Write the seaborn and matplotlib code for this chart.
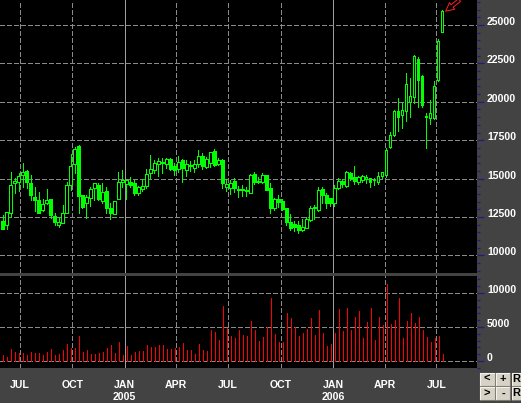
import numpy as np
import pandas as pd
import matplotlib
matplotlib.use("Agg")
import matplotlib.pyplot as plt
import matplotlib.dates as mdates
import matplotlib.transforms as mtrans
from matplotlib.patches import Rectangle
from matplotlib.lines import Line2D
from matplotlib.ticker import MultipleLocator, FixedLocator
import seaborn as sns

# ---------------- data ----------------
start_date = "2004-06-01"   # first weekly bar
opens = [12240, 11960, 12740, 14690, 14760, 15240, 15470, 14710, 13800, 13610,
         12960, 13390, 13650, 12570, 12000, 12130, 12740, 14580, 15930, 17120,
         13930, 13390, 13720, 14370, 14580, 13540, 14190, 13060, 12670, 13650,
         14800, 14630, 14800, 14740, 14090, 14300, 14540, 15340, 15560, 15950,
         16020, 15950, 16280, 15800, 15640, 16210, 15560, 15800, 15710, 15950,
         16470, 15780, 15990, 16800, 15930, 16210, 14480, 14410, 14840, 14280,
         14320, 14220, 14090, 15300, 14800, 14800, 15240, 14410, 13060, 13690,
         13560, 13110, 12200, 12020, 11980, 11650, 11810, 12310, 13100, 12960,
         14300, 13930, 13760, 13390, 14370, 14820, 14540, 15340, 15080, 14800,
         14910, 14950, 15020, 14900, 14800, 15190, 15240, 17080, 17840, 19400,
         19140, 19420, 19970, 20330, 22760, 21680, 19100, 18920, 18920, 21420,
         24570]
highs = [12630, 12830, 15430, 15020, 15390, 15990, 15560, 15240, 14480, 14130,
         13650, 14300, 13650, 12740, 12480, 13280, 14800, 16600, 17080, 17190,
         13930, 13930, 14480, 14690, 14690, 14690, 14430, 13390, 13560, 15430,
         15560, 14970, 15130, 14910, 14540, 14970, 15630, 16540, 16210, 16320,
         16320, 16320, 16320, 15990, 16490, 16250, 16210, 16170, 16210, 16860,
         16650, 16430, 16750, 16930, 16320, 16250, 14950, 14910, 15020, 14520,
         14580, 14430, 15300, 15450, 15130, 15390, 15240, 14690, 13760, 13930,
         13650, 13110, 12700, 12240, 12260, 12350, 12480, 13220, 13280, 14430,
         14430, 14090, 13760, 14580, 15020, 14960, 15500, 15410, 15820, 15190,
         15240, 15240, 15060, 15020, 15410, 15450, 16970, 18010, 19470, 20230,
         19900, 21850, 21570, 23050, 22890, 21750, 19250, 20120, 21380, 24090,
         25980]
lows = [11700, 11740, 12520, 14040, 14220, 14430, 14370, 13610, 12910, 12740,
        12910, 13350, 12410, 11980, 11870, 12090, 12740, 14260, 15340, 12780,
        13060, 12410, 13220, 13610, 13610, 13430, 12740, 12350, 12670, 13650,
        14480, 13670, 14480, 13930, 13930, 14220, 14370, 15060, 15340, 15190,
        15340, 15670, 15560, 15210, 15450, 14800, 15170, 15500, 15450, 15780,
        15630, 15710, 15780, 15840, 15890, 14370, 14220, 14000, 14150, 13820,
        13870, 13870, 14040, 14650, 14690, 14690, 14260, 12780, 12960, 13170,
        12960, 11980, 11650, 11610, 11440, 11610, 11760, 12260, 12350, 12910,
        13390, 13110, 13220, 13220, 14300, 14430, 14470, 14910, 14630, 14630,
        14800, 14740, 14430, 14580, 14650, 15020, 15130, 16970, 17770, 18120,
        18270, 18770, 19030, 19900, 19680, 19640, 17010, 18560, 18860, 21350,
        24570]
closes = [11740, 12830, 14580, 14870, 15190, 15410, 14760, 13930, 13630, 12780,
          13350, 13610, 12630, 12200, 12170, 12740, 14580, 15820, 16930, 13890,
          13170, 13800, 14320, 14690, 13670, 14110, 13060, 12740, 13560, 14760,
          14910, 14910, 14580, 14040, 14430, 14520, 15300, 15600, 16040, 16150,
          16060, 16280, 15620, 15560, 16070, 15670, 15950, 15890, 15950, 16470,
          15840, 16280, 16710, 15890, 16210, 14690, 14630, 14740, 14370, 14320,
          14280, 14250, 15210, 14760, 14790, 15240, 14260, 13110, 13670, 13480,
          13040, 12200, 11760, 11870, 11650, 11870, 12370, 13110, 13120, 14260,
          13930, 13390, 13430, 14370, 14840, 14620, 15440, 15020, 14870, 15080,
          15190, 15130, 14800, 14920, 15190, 15410, 16860, 17840, 19420, 18990,
          19470, 21140, 20380, 22980, 21420, 19790, 18990, 19250, 21030, 23960,
          25910]
volumes = [880, 590, 1760, 1320, 1180, 1180, 880, 1320, 1180, 1180,
           880, 1320, 1760, 880, 1030, 1620, 2500, 1910, 1910, 3680,
           1320, 1620, 1030, 1030, 1180, 1320, 1910, 2350, 1180, 2790,
           880, 2210, 880, 1370, 1470, 1470, 2350, 2060, 2060, 2350,
           2350, 1760, 1760, 1840, 2060, 2650, 1620, 1620, 1030, 2500,
           1620, 1500, 4560, 4260, 3090, 8090, 4920, 3680, 3380, 4560,
           3820, 3680, 5880, 4560, 2940, 3500, 4970, 9290, 3970, 2790,
           2790, 7060, 6320, 4950, 3680, 4120, 4700, 6320, 3820, 7500,
           4120, 2210, 2500, 4120, 7640, 4410, 7790, 4560, 6470, 7350,
           3380, 5730, 7790, 3090, 6470, 5290, 11320, 5440, 6030, 9260,
           3380, 5880, 7060, 5590, 6470, 4560, 3530, 2790, 3380, 3680,
           1030]
price_ticks = [10000, 12500, 15000, 17500, 20000, 22500, 25000]
volume_ticks = [0, 5000, 10000]
quarter_dates = ["2004-07-01", "2004-10-01", "2005-01-01", "2005-04-01",
                 "2005-07-01", "2005-10-01", "2006-01-01", "2006-04-01",
                 "2006-07-01"]
quarter_labels = ["JUL", "OCT", "JAN", "APR", "JUL", "OCT", "JAN", "APR", "JUL"]
year_labels = {"2005-01-01": "2005", "2006-01-01": "2006"}
button_labels = [["<", "+", "R"], [">", "-", "R"]]

# ---------------- style ----------------
sns.set_theme(style="dark", rc={"axes.facecolor": "black",
                                "figure.facecolor": "#434343"})
plt.rcParams["font.family"] = ["Liberation Sans", "DejaVu Sans"]
plt.rcParams["lines.scale_dashes"] = False

W, H = 521, 403
GREEN = "#00ff00"
GRID = "#8a8a8a"
BG = "#434343"
TICKBLUE = "#1c1c8a"
PX = 0.72  # one pixel in points


def rect(x0, y0, x1, y1):
    return [x0 / W, 1 - y1 / H, (x1 - x0) / W, (y1 - y0) / H]


fig = plt.figure(figsize=(W / 100, H / 100), dpi=100, facecolor=BG)
axp = fig.add_axes(rect(0, 0, 477, 273))
axv = fig.add_axes(rect(0, 276, 477, 368))

dates = pd.date_range(start_date, periods=len(opens), freq="7D")
x = mdates.date2num(dates)
o = np.array(opens, float)
h = np.array(highs, float)
l = np.array(lows, float)
c = np.array(closes, float)
v = np.array(volumes, float)

xmin = mdates.date2num(pd.Timestamp("2004-05-27 12:00"))
xmax = mdates.date2num(pd.Timestamp("2006-09-10"))

for ax in (axp, axv):
    ax.set_facecolor("black")
    for s in ax.spines.values():
        s.set_visible(False)
    ax.set_xlim(xmin, xmax)
    ax.grid(False)

axp.set_ylim(8854, 26628)
axv.set_ylim(-1029, 12500)

# grid lines
qd = mdates.date2num(pd.to_datetime(quarter_dates))
DASH = (0, (3.2, 2.0))
for ds, q in zip(quarter_dates, qd):
    for ax in (axp, axv):
        if ds.endswith("01-01"):
            ax.axvline(q, color="#a0a0a0", lw=PX, zorder=1, antialiased=False)
        else:
            ax.axvline(q, color=GRID, lw=PX, ls=DASH, zorder=1, antialiased=False)
for t in price_ticks:
    axp.axhline(t, color=GRID, lw=PX, ls=DASH, zorder=1, antialiased=False)
for t in volume_ticks:
    axv.axhline(t, color=GRID, lw=PX, ls=DASH, zorder=1, antialiased=False)

# candlesticks
axp.vlines(x, l, h, color=GREEN, lw=PX, zorder=3, antialiased=False)
up = c >= o
body_h = np.where(np.abs(c - o) < 40, 40, np.abs(c - o))
bottoms = np.where(up, o, c)
axp.bar(x[up], body_h[up], bottom=bottoms[up], width=4.4,
        facecolor="black", edgecolor=GREEN, linewidth=PX, zorder=4,
        antialiased=False)
axp.bar(x[~up], body_h[~up], bottom=bottoms[~up], width=4.4,
        facecolor=GREEN, edgecolor=GREEN, linewidth=PX, zorder=4,
        antialiased=False)

# volume
axv.vlines(x + 1.0, 0, v, color="#ff0000", lw=PX, zorder=3, antialiased=False)

# red pointer arrow near last bar
axp.annotate("", xy=(x[-1] + 6, 25900), xycoords="data",
             xytext=(10, 8), textcoords="offset points",
             arrowprops=dict(arrowstyle="simple,head_length=0.5,head_width=0.5,tail_width=0.2",
                             fc="black", ec="#ff2020", lw=0.7,
                             shrinkA=0, shrinkB=0),
             zorder=6)

# right-side ticks
for ax, ticks, minor in ((axp, price_ticks, 500), (axv, volume_ticks, 1000)):
    ax.yaxis.set_ticks_position("right")
    ax.set_yticks(ticks)
    ax.yaxis.set_minor_locator(MultipleLocator(minor))
    ax.tick_params(axis="y", which="major", direction="out", length=5,
                   width=0.9, color=TICKBLUE, labelright=False, labelleft=False)
    ax.tick_params(axis="y", which="minor", direction="out", length=2.4,
                   width=0.9, color=TICKBLUE)
    tr = mtrans.blended_transform_factory(ax.transAxes, ax.transData)
    for t in ticks:
        ax.text(1 + 10 / 477, t, f"{t}", transform=tr, ha="left", va="baseline",
                color="white", fontsize=7.6, fontweight="bold", clip_on=False)

# bottom ticks
axp.tick_params(axis="x", which="both", bottom=False, labelbottom=False)
months = mdates.date2num(pd.date_range("2004-06-01", "2006-09-01", freq="MS"))
axv.xaxis.set_major_locator(FixedLocator(qd))
axv.xaxis.set_minor_locator(FixedLocator([m for m in months if m not in qd]))
axv.tick_params(axis="x", which="major", direction="out", length=5, width=1.3,
                color="#0a0af0", labelbottom=False)
axv.tick_params(axis="x", which="minor", direction="out", length=2.8, width=1.0,
                color="#1a1ad0")
trx = mtrans.blended_transform_factory(axv.transData, axv.transAxes)
for ds, q, lab in zip(quarter_dates, qd, quarter_labels):
    axv.text(q, (368 - 385) / 92, lab, transform=trx, ha="center", va="center",
             color="white", fontsize=7.6, fontweight="bold", clip_on=False)
    if ds in year_labels:
        axv.text(q, (368 - 397.5) / 92, year_labels[ds], transform=trx,
                 ha="center", va="center", color="white", fontsize=7.6,
                 fontweight="bold", clip_on=False)

# navigation buttons
bx = [(480, 494.5), (495.8, 510.3), (511.6, 526)]
by = [(372.5, 385.5), (386.8, 400)]
for r, (y0, y1) in enumerate(by):
    for ci, (x0, x1) in enumerate(bx):
        fig.patches.append(Rectangle((x0 / W, 1 - y1 / H), (x1 - x0) / W, (y1 - y0) / H,
                                     transform=fig.transFigure, facecolor="#d6d2c6",
                                     edgecolor="none", zorder=5))
        fig.lines.append(Line2D([x0 / W, x0 / W, x1 / W], [1 - y1 / H, 1 - y0 / H, 1 - y0 / H],
                                transform=fig.transFigure, color="#f4f2ec", lw=0.8, zorder=6))
        fig.lines.append(Line2D([x0 / W, x1 / W, x1 / W], [1 - y1 / H, 1 - y1 / H, 1 - y0 / H],
                                transform=fig.transFigure, color="#7c786e", lw=0.8, zorder=6))
        tx = (x0 + x1) / 2 if ci < 2 else 516.0
        fig.text(tx / W, 1 - (y0 + y1) / 2 / H, button_labels[r][ci],
                 ha="center", va="center", fontsize=8, fontweight="bold",
                 color="black", zorder=7)

fig.savefig("out.png", dpi=100, facecolor=BG)
